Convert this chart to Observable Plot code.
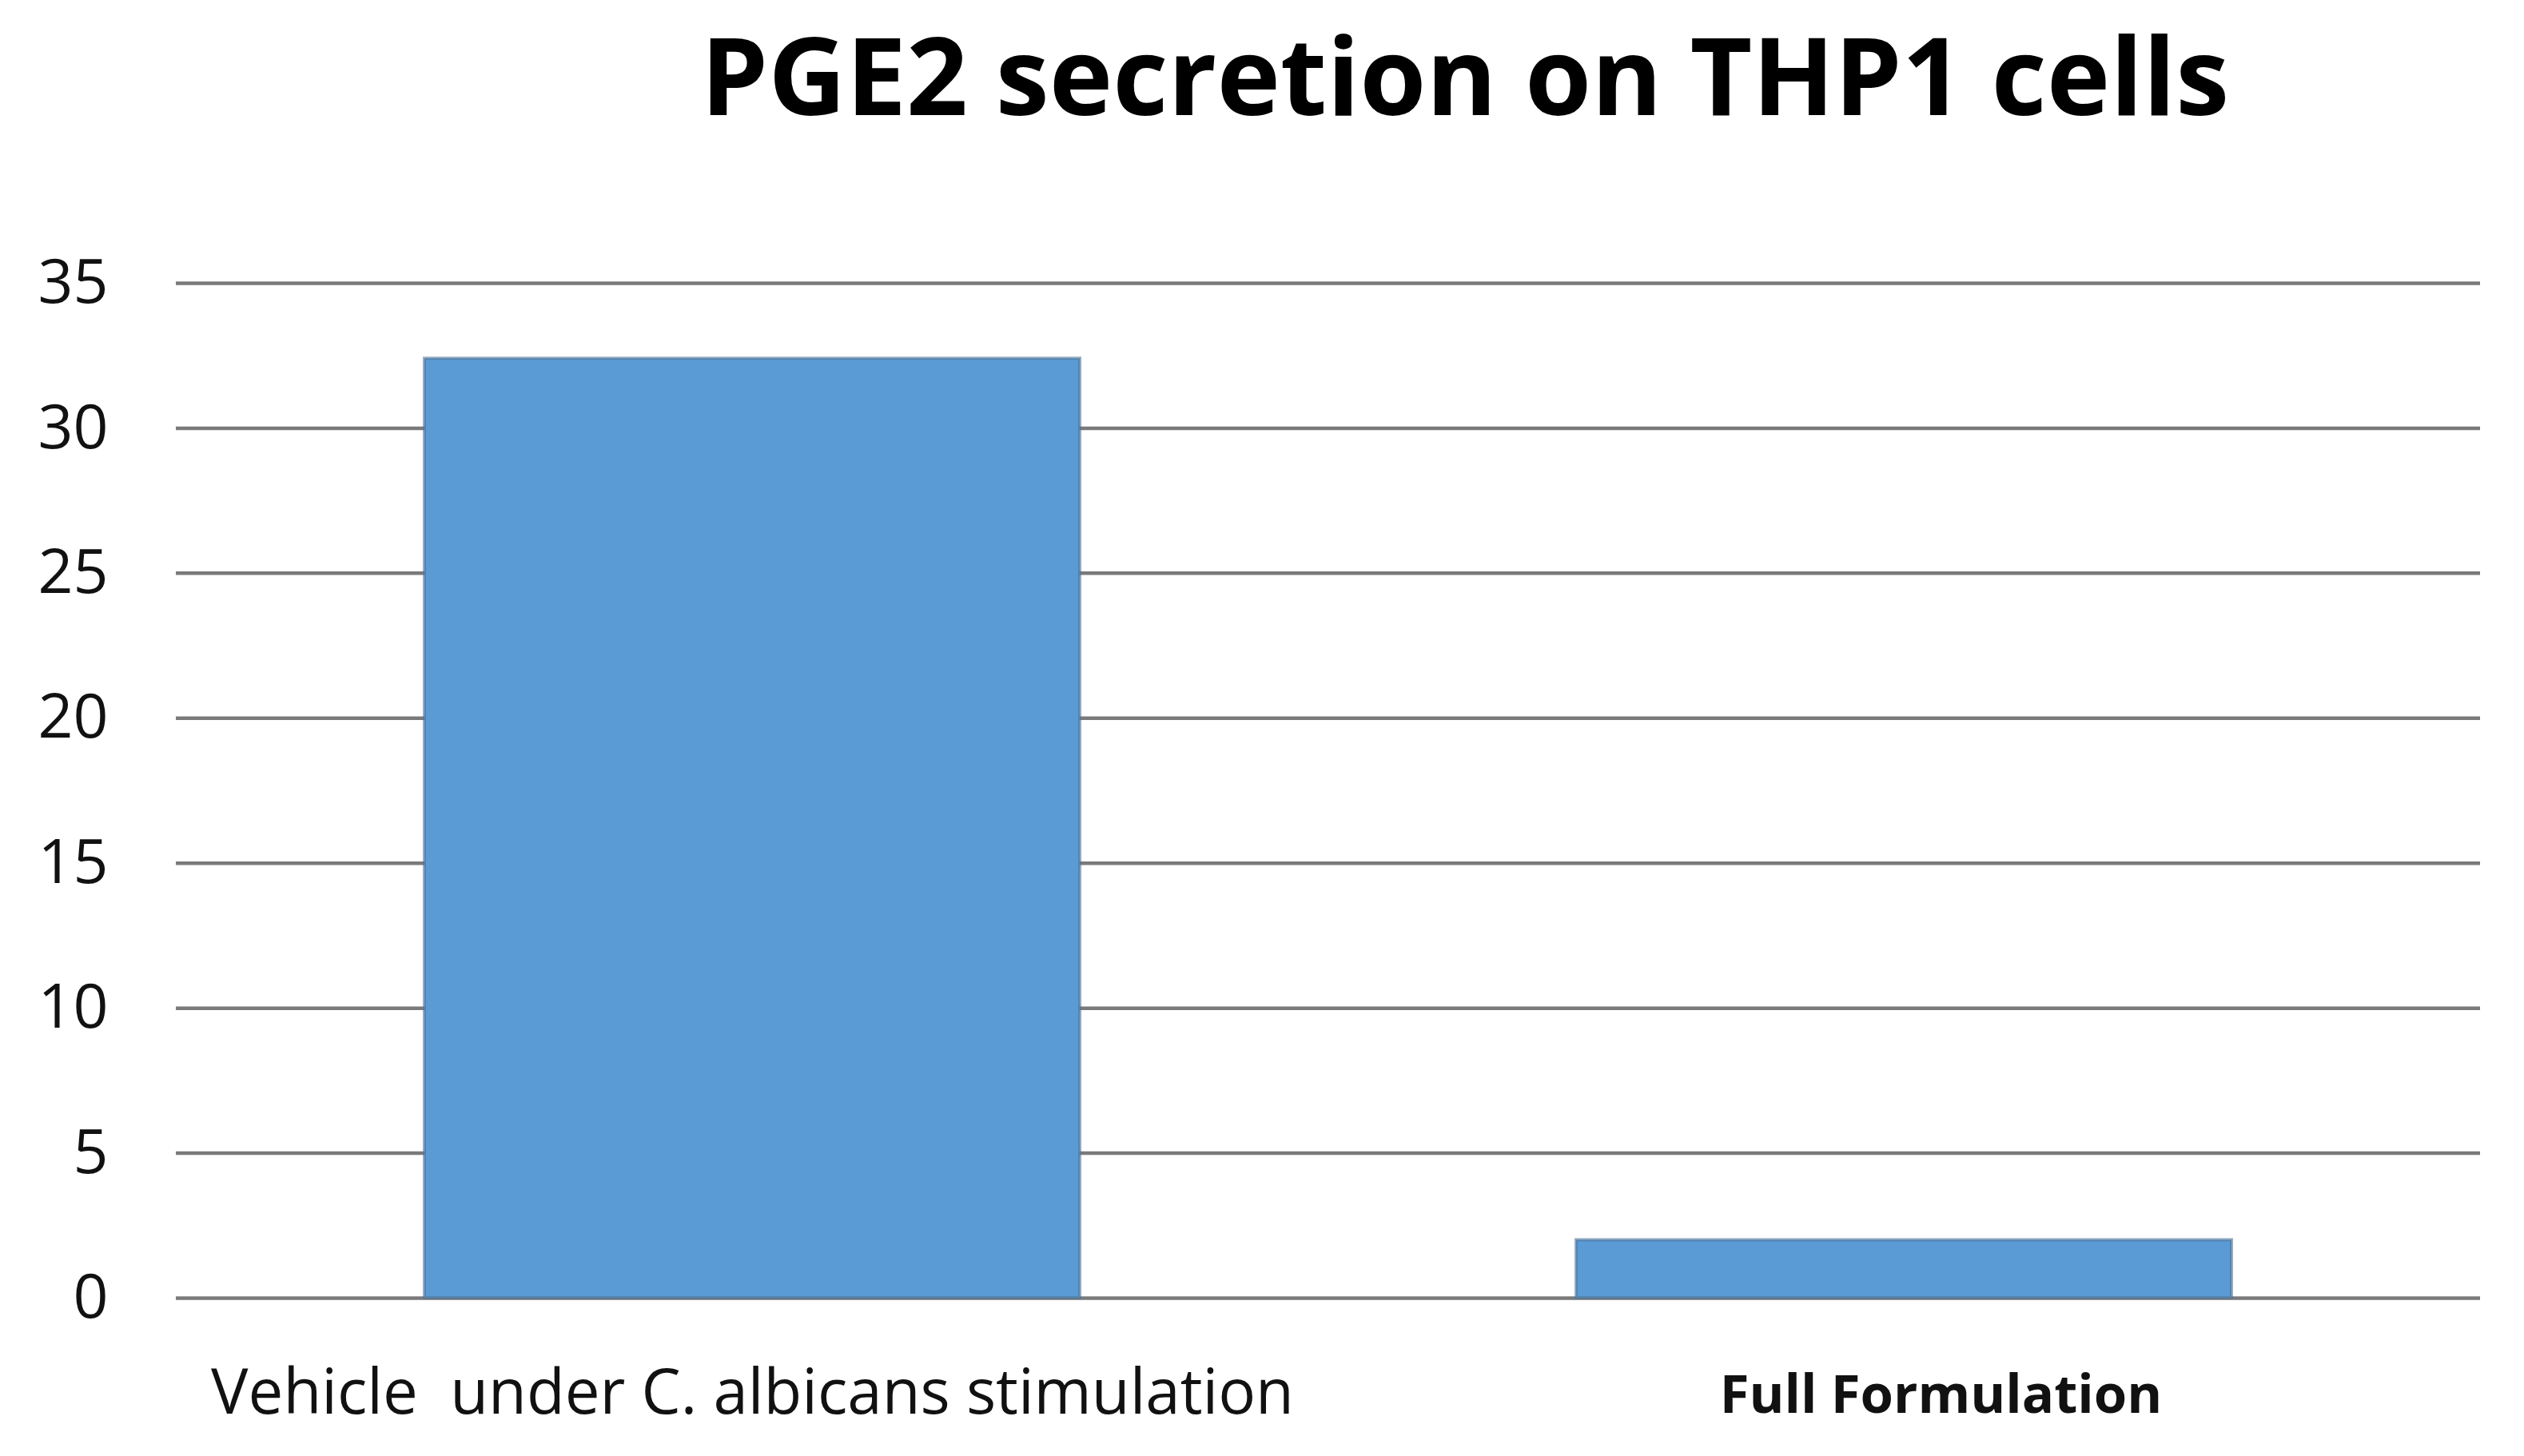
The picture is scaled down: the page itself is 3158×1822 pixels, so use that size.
<!DOCTYPE html>
<html>
<head>
<meta charset="utf-8">
<script src="https://cdn.jsdelivr.net/npm/d3@7"></script>
<script src="https://cdn.jsdelivr.net/npm/@observablehq/plot@0.6"></script>
<style>
  html, body { margin: 0; padding: 0; background: #ffffff; }
  #wrap { position: relative; width: 3158px; height: 1822px; overflow: hidden; background: #fff; }
  #title { position: absolute; left: 1833px; top: 25px; transform: translateX(-50%);
           font-family: "Open Sans", sans-serif; font-weight: 700; font-size: 134.5px;
           line-height: 134.5px; white-space: nowrap; color: #000; }
  #chart { position: absolute; left: 0; top: 200px; }
  svg text { white-space: pre; }
</style>
</head>
<body>
<div id="wrap">
  <div id="title">PGE2 secretion on THP1 cells</div>
  <div id="chart"></div>
</div>
<script>
const categories = ["Vehicle  under C. albicans stimulation", "Full Formulation"];
const values = [32.4, 2.0];
const yTicks = [0, 5, 10, 15, 20, 25, 30, 35];

const data = categories.map((c, i) => ({category: c, value: values[i]}));

const chart = Plot.plot({
  width: 3158,
  height: 1622,
  marginTop: 154,
  marginBottom: 198,
  marginLeft: 220,
  marginRight: 55,
  style: {fontFamily: "'Open Sans', sans-serif", background: "#ffffff", color: "#000", overflow: "visible"},
  x: {domain: categories, paddingInner: 0.431, paddingOuter: 0.2155, axis: null},
  y: {domain: [0, 35], axis: null},
  marks: [
    Plot.ruleY(yTicks, {stroke: "#7a7a7a", strokeWidth: 4.5}),
    Plot.barY(data, {x: "category", y: "value", fill: "#5b9bd5", stroke: "#4d7398", strokeOpacity: 0.6, strokeWidth: 4}),
    Plot.axisY({ticks: yTicks, tickSize: 0, tickPadding: 85, fontSize: 77, tickFormat: d => String(d), label: null, fill: "#111"}),
    Plot.text([categories[0]], {x: d => d, frameAnchor: "bottom", lineAnchor: "bottom", dy: 144, fontSize: 78, fill: "#111", textAnchor: "middle"}),
    Plot.text([categories[1]], {x: d => d, frameAnchor: "bottom", lineAnchor: "bottom", dy: 143, dx: 46, fontSize: 67, fontWeight: "bold", fill: "#111", textAnchor: "middle"})
  ]
});
document.getElementById("chart").appendChild(chart);
</script>
</body>
</html>
